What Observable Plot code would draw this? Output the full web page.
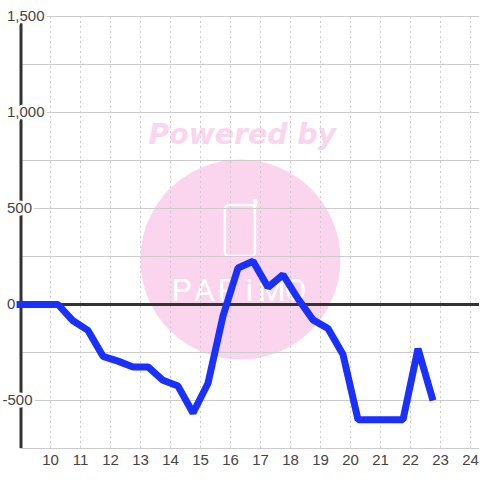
<!DOCTYPE html>
<html><head><meta charset="utf-8">
<script src="https://cdn.jsdelivr.net/npm/d3@7"></script>
<script src="https://cdn.jsdelivr.net/npm/@observablehq/plot@0.6"></script>
<style>html,body{margin:0;padding:0;background:#fff}svg{display:block}</style>
</head><body><div id="c"></div><script>
const hours=[8.87,10.25,10.75,11.25,11.75,12.25,12.75,13.25,13.75,14.25,14.75,15.25,15.75,16.25,16.75,17.25,17.75,18.25,18.75,19.25,19.75,20.25,20.75,21.25,21.75,22.25,22.75];
const values=[0,0,-85,-135,-270,-295,-325,-325,-395,-425,-565,-410,-60,190,225,90,155,30,-80,-125,-260,-600,-600,-600,-600,-230,-500];
const series=hours.map((x,i)=>({x,y:values[i]}));
const xTicks=d3.range(10,25);
const yGrid=[-750,-500,-250,250,500,750,1000,1250,1500];
const yLabelsPos=[0,500,1000,1500];
const yLabelsNeg=[-500];
const logoCenter=[{x:16.33,y:234}];
const logoPhone=[{x1:15.83,x2:16.83,y1:250,y2:516}];
const logoTab=[{x:16.83,y:516},{x:16.83,y:540}];
const logoLetters=["P","A","P","i","M","O"];
const logoX=[14.37,15.13,15.9,16.63,17.37,18.17];
const pink="#fbd5ee";
const font="'Liberation Sans',Arial,sans-serif";
const chart=Plot.plot({
 width:480,height:480,marginLeft:20,marginRight:1,marginTop:16,marginBottom:32,
 x:{domain:[9,24.3],axis:null},
 y:{domain:[-750,1500],axis:null},
 style:{background:"#fff",fontFamily:font},
 marks:[
  Plot.dot(logoCenter,{x:"x",y:"y",r:100,fill:pink}),
  Plot.text(["Powered by"],{frameAnchor:"top-left",dx:128,dy:107,text:d=>d,textAnchor:"start",lineAnchor:"top",fill:pink,fontFamily:"DejaVu Sans",fontWeight:"bold",fontStyle:"italic",fontSize:28.3}),
  Plot.rect(logoPhone,{x1:"x1",x2:"x2",y1:"y1",y2:"y2",fill:"none",stroke:"#fff",strokeWidth:2.5,rx:4}),
  Plot.line(logoTab,{x:"x",y:"y",stroke:"#fff",strokeWidth:4,strokeLinecap:"round"}),
  Plot.text(logoLetters,{x:(d,i)=>logoX[i],y:()=>73,text:d=>d,fill:"#fff",fontFamily:"Roboto",fontWeight:400,fontSize:32,lineAnchor:"middle"}),
  Plot.ruleY(yGrid,{stroke:"#ccc",strokeWidth:1}),
  Plot.ruleX(xTicks,{stroke:"#ccc",strokeWidth:1,strokeDasharray:"2,3"}),
  Plot.ruleY([0],{stroke:"#333",strokeWidth:3}),
  Plot.ruleX([9],{stroke:"#333",strokeWidth:3,dx:0.5}),
  Plot.text(yLabelsPos,{y:d=>d,text:d=>d3.format(",")(d),frameAnchor:"left",dx:-13.5,textAnchor:"start",fill:"#444",fontSize:15,stroke:"#fff",strokeWidth:5,paintOrder:"stroke"}),
  Plot.text(yLabelsNeg,{y:d=>d,text:d=>"-"+Math.abs(d),frameAnchor:"left",dx:-18,textAnchor:"start",fill:"#444",fontSize:15,stroke:"#fff",strokeWidth:5,paintOrder:"stroke"}),
  Plot.text(xTicks,{x:d=>d,text:d=>String(d),frameAnchor:"bottom",dy:6,fill:"#444",fontSize:15,lineAnchor:"top"}),
  Plot.line(series,{x:"x",y:"y",stroke:"#1a30ff",strokeWidth:7,strokeLinejoin:"miter",curve:"linear",strokeLinecap:"butt"})
 ]
});
document.getElementById("c").append(chart);
</script></body></html>
